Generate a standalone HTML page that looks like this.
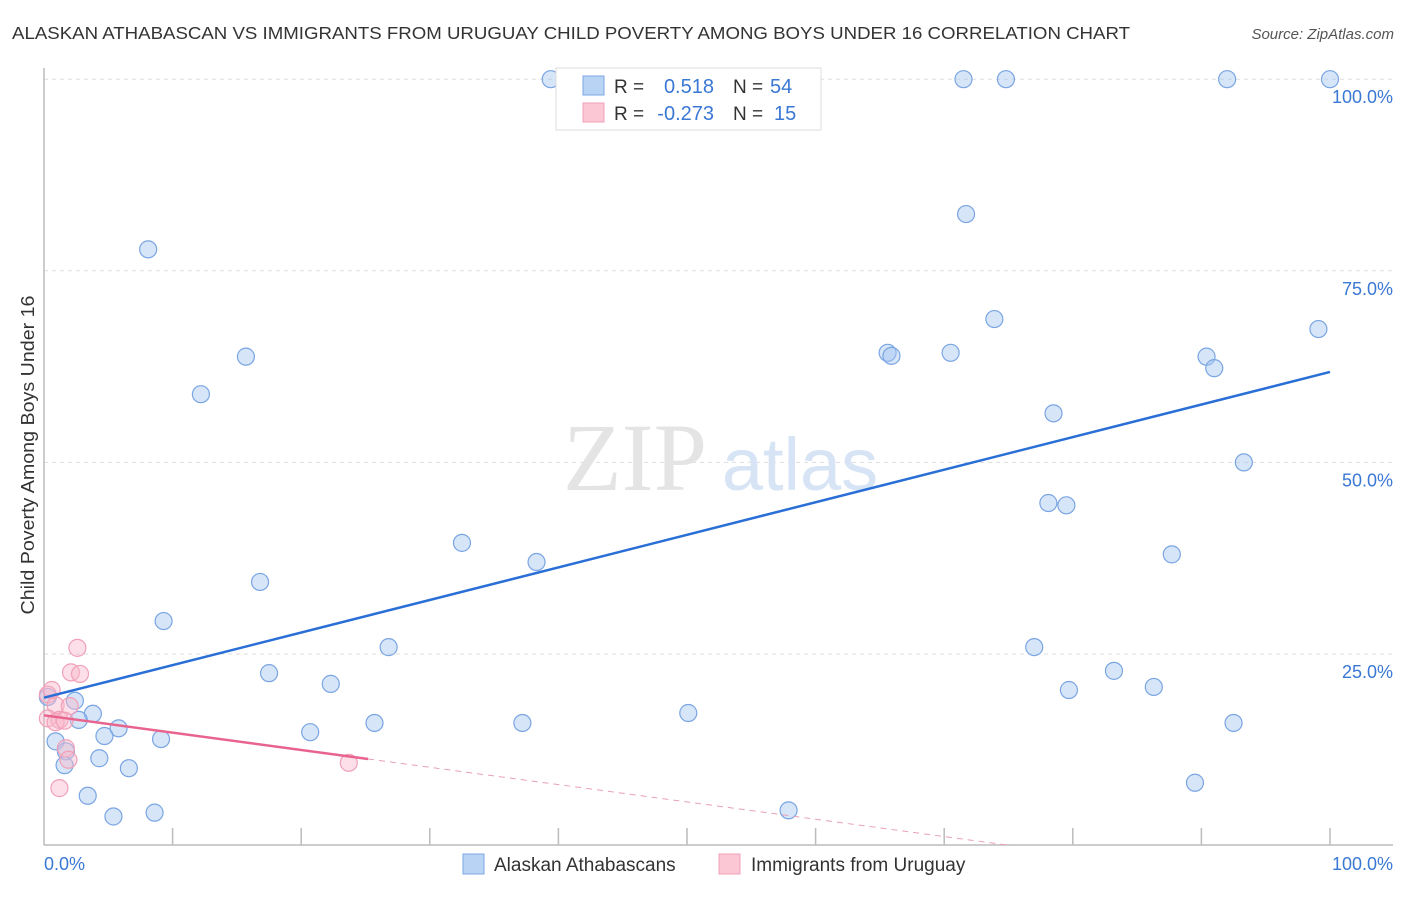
<!DOCTYPE html>
<html><head><meta charset="utf-8"><style>
body{margin:0;background:#fff;font-family:"Liberation Sans",sans-serif;}
</style></head><body>
<svg width="1406" height="892" xmlns="http://www.w3.org/2000/svg" style="font-family:'Liberation Sans',sans-serif">
<text x="12" y="39" font-size="17.5" fill="#333" textLength="1118" lengthAdjust="spacingAndGlyphs">ALASKAN ATHABASCAN VS IMMIGRANTS FROM URUGUAY CHILD POVERTY AMONG BOYS UNDER 16 CORRELATION CHART</text>
<text x="1394" y="39" font-size="15" fill="#555" font-style="italic" text-anchor="end">Source: ZipAtlas.com</text>
<g id="grid"></g>
<text x="635" y="490" font-size="96" fill="#e4e4e4" font-family="Liberation Serif" text-anchor="middle">ZIP</text>
<text x="800" y="490" font-size="74" fill="#d6e4f5" text-anchor="middle">atlas</text>
<text x="34" y="455" font-size="18" fill="#333" text-anchor="middle" textLength="319" lengthAdjust="spacingAndGlyphs" transform="rotate(-90 34 455)">Child Poverty Among Boys Under 16</text>
<g id="pts"></g>
<g id="lines"></g>
<g>
<rect x="556" y="68" width="265" height="62" fill="#fff" stroke="#ddd"/>
<rect x="583" y="76" width="21" height="19" fill="#b9d3f5" stroke="#7aa7e3"/>
<rect x="583" y="103" width="21" height="19" fill="#fbc7d5" stroke="#f1a0b8"/>
<text x="614" y="93" font-size="19" fill="#333">R =</text>
<text x="714" y="93" font-size="20" fill="#3a78d4" text-anchor="end">0.518</text>
<text x="733" y="93" font-size="19" fill="#333">N =</text>
<text x="770" y="93" font-size="20" fill="#3a78d4">54</text>
<text x="614" y="120" font-size="19" fill="#333">R =</text>
<text x="714" y="120" font-size="20" fill="#3a78d4" text-anchor="end">-0.273</text>
<text x="733" y="120" font-size="19" fill="#333">N =</text>
<text x="774" y="120" font-size="20" fill="#3a78d4">15</text>
</g>
<g>
<rect x="463" y="854" width="21" height="20" fill="#b9d3f5" stroke="#7aa7e3"/>
<text x="494" y="871" font-size="19" fill="#333">Alaskan Athabascans</text>
<rect x="719" y="854" width="21" height="20" fill="#fbc7d5" stroke="#f1a0b8"/>
<text x="751" y="871" font-size="19" fill="#333">Immigrants from Uruguay</text>
</g>
</svg>
<script>
const blueX=[39.4,71.5,74.8,92.0,100,71.7,8.1,73.9,99.1,15.7,65.6,65.9,70.5,90.4,91.0,12.2,78.5,93.3,78.1,79.5,32.5,38.3,87.7,16.8,9.3,26.8,77.0,17.5,22.3,83.2,79.7,86.3,0.3,2.4,3.8,2.7,50.1,25.7,37.2,92.5,5.8,20.7,4.7,9.1,0.9,1.7,4.3,1.6,6.6,89.5,3.4,8.6,5.4,57.9];
const blueY=[100,100,100,100,100,82.4,77.8,68.7,67.4,63.8,64.3,63.9,64.3,63.8,62.3,58.9,56.4,50.0,44.7,44.4,39.5,37.0,38.0,34.4,29.3,25.9,25.9,22.5,21.1,22.8,20.3,20.7,19.4,18.9,17.2,16.4,17.3,16.0,16.0,16.0,15.3,14.8,14.3,13.9,13.6,12.3,11.4,10.5,10.1,8.2,6.5,4.3,3.8,4.6];
const pinkX=[2.6,2.1,2.8,0.3,0.9,2.0,0.3,1.2,0.9,1.6,1.7,1.9,1.2,23.7,0.6];
const pinkY=[25.8,22.6,22.4,19.7,18.3,18.2,16.6,16.4,16.1,16.3,12.7,11.2,7.5,10.8,20.3];
const blueTrend=[19.3,61.8];
const pinkTrend=[17.0,-5.6];
const pinkSolidEnd=25.2;
const yTicks=[25,50,75,100];
const xTickLabels=["0.0%","100.0%"];
const NS="http://www.w3.org/2000/svg";
const X=v=>44+v*12.86, Y=v=>845.6-v*7.664;
function mk(tag,attrs,parent){const e=document.createElementNS(NS,tag);for(const k in attrs)e.setAttribute(k,attrs[k]);parent.appendChild(e);return e;}
const grid=document.getElementById('grid');
yTicks.forEach(t=>{
 const l=mk('line',{x1:44,x2:1393,y1:Y(t),y2:Y(t),stroke:'#ddd','stroke-dasharray':'4,4'},grid);
 
 
 const tx=mk('text',{x:1393,y:Y(t)+24,'font-size':18,fill:'#3a78d4','text-anchor':'end'},grid);
 tx.textContent=t.toFixed(1)+'%';
 
 
});
const ax=mk('line',{x1:44,x2:1393,y1:845,y2:845,stroke:'#bbb','stroke-width':1.5},grid);


const ay=mk('line',{x1:44,x2:44,y1:68,y2:845,stroke:'#bbb','stroke-width':1.5},grid);


for(let i=1;i<=10;i++){
 const t=mk('line',{x1:X(i*10),x2:X(i*10),y1:828,y2:845,stroke:'#bbb','stroke-width':1.5},grid);
 
 
}
[[0,'start',44],[100,'end',1393]].forEach((d,i)=>{
 const tx=mk('text',{x:d[2],y:870,'font-size':18,fill:'#3a78d4','text-anchor':d[1]},grid);
 tx.textContent=xTickLabels[i];
 
 
});
const pts=document.getElementById('pts');
blueX.forEach((x,i)=>{
 const c=mk('circle',{cx:X(x),cy:Y(blueY[i]),r:8.5,fill:'rgba(165,198,240,0.45)',stroke:'#7aa5e3','stroke-width':1.2},pts);
 
 
});
pinkX.forEach((x,i)=>{
 const c=mk('circle',{cx:X(x),cy:Y(pinkY[i]),r:8.5,fill:'rgba(248,185,205,0.45)',stroke:'#f0a0b8','stroke-width':1.2},pts);
 
 
});
const lines=document.getElementById('lines');
const bl=mk('line',{x1:X(0),y1:Y(blueTrend[0]),x2:X(100),y2:Y(blueTrend[1]),stroke:'#2a6fd6','stroke-width':2.5},lines);


const pY=v=>pinkTrend[0]+(pinkTrend[1]-pinkTrend[0])*v/100;
const pl=mk('line',{x1:X(0),y1:Y(pY(0)),x2:X(pinkSolidEnd),y2:Y(pY(pinkSolidEnd)),stroke:'#e8648f','stroke-width':2.5},lines);


const zeroX=-pinkTrend[0]/(pinkTrend[1]-pinkTrend[0])*100;
const pd=mk('line',{x1:X(pinkSolidEnd),y1:Y(pY(pinkSolidEnd)),x2:X(zeroX),y2:Y(0),stroke:'#e8a0b8','stroke-width':1,'stroke-dasharray':'6,5'},lines);


</script>
</body></html>
